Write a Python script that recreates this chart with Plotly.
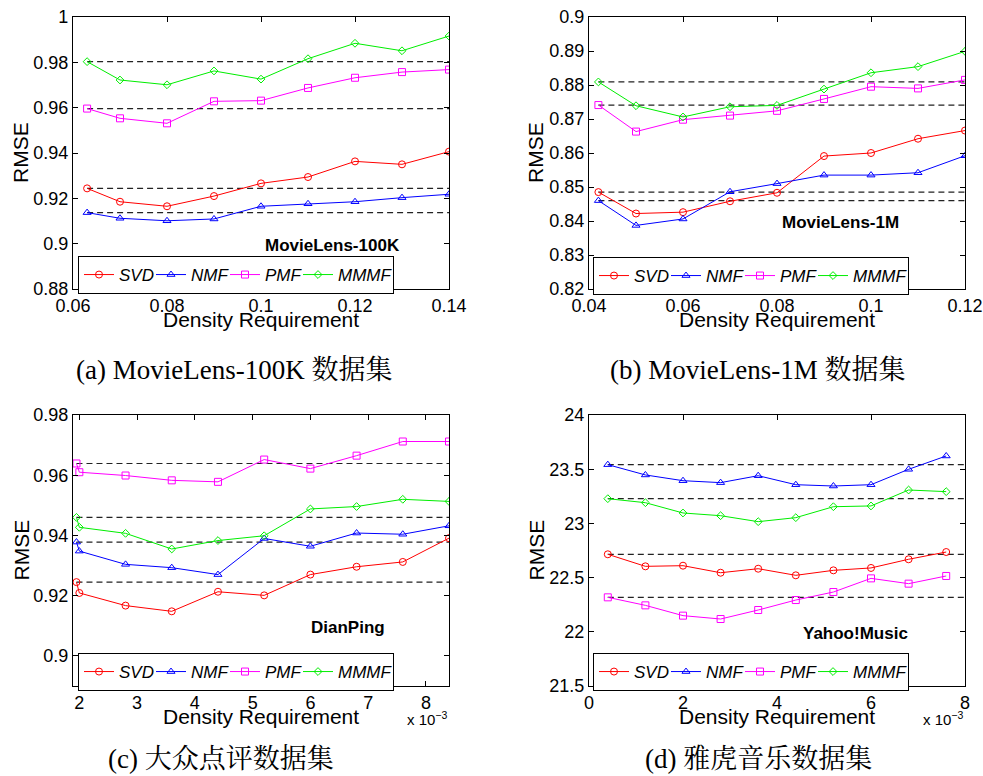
import plotly.graph_objects as go

# ---------------- data ----------------
methods = ["SVD", "NMF", "PMF", "MMMF"]

ml100k_density = [0.063, 0.07, 0.08, 0.09, 0.10, 0.11, 0.12, 0.13, 0.14]
ml100k_svd = [0.9244, 0.9185, 0.9165, 0.9210, 0.9266, 0.9294, 0.9363, 0.9350, 0.9406]
ml100k_nmf = [0.9137, 0.9112, 0.9101, 0.9109, 0.9165, 0.9176, 0.9185, 0.9203, 0.9218]
ml100k_pmf = [0.9596, 0.9553, 0.9531, 0.9628, 0.9631, 0.9687, 0.9732, 0.9757, 0.9768]
ml100k_mmmf = [0.9803, 0.9722, 0.9701, 0.9762, 0.9726, 0.9816, 0.9884, 0.9851, 0.9916]

ml1m_density = [0.042, 0.05, 0.06, 0.07, 0.08, 0.09, 0.10, 0.11, 0.12]
ml1m_svd = [0.8485, 0.8422, 0.8426, 0.8458, 0.8483, 0.8591, 0.8600, 0.8642, 0.8666]
ml1m_nmf = [0.8460, 0.8387, 0.8406, 0.8486, 0.8510, 0.8535, 0.8535, 0.8542, 0.8592]
ml1m_pmf = [0.8741, 0.8663, 0.8698, 0.8710, 0.8724, 0.8759, 0.8795, 0.8790, 0.8815]
ml1m_mmmf = [0.8809, 0.8739, 0.8706, 0.8736, 0.8740, 0.8788, 0.8836, 0.8854, 0.8899]

# density in units of 10^-3
dianping_density = [1.95, 2.0, 2.8, 3.6, 4.4, 5.2, 6.0, 6.8, 7.6, 8.4]
dianping_svd = [0.9245, 0.9209, 0.9167, 0.9148, 0.9213, 0.9201, 0.9270, 0.9296, 0.9312, 0.9391]
dianping_nmf = [0.9378, 0.9348, 0.9304, 0.9293, 0.9270, 0.9390, 0.9364, 0.9408, 0.9404, 0.9432]
dianping_pmf = [0.9639, 0.9610, 0.9599, 0.9583, 0.9578, 0.9652, 0.9622, 0.9665, 0.9712, 0.9712]
dianping_mmmf = [0.9460, 0.9427, 0.9407, 0.9355, 0.9383, 0.9399, 0.9488, 0.9496, 0.9520, 0.9513]

# density in units of 10^-3
yahoo_density = [0.4, 1.2, 2.0, 2.8, 3.6, 4.4, 5.2, 6.0, 6.8, 7.6]
yahoo_svd = [22.715, 22.604, 22.610, 22.545, 22.582, 22.521, 22.567, 22.589, 22.669, 22.736]
yahoo_nmf = [23.542, 23.447, 23.394, 23.376, 23.440, 23.357, 23.345, 23.357, 23.499, 23.622]
yahoo_pmf = [22.318, 22.244, 22.149, 22.118, 22.201, 22.293, 22.367, 22.493, 22.444, 22.515]
yahoo_mmmf = [23.228, 23.191, 23.096, 23.071, 23.016, 23.053, 23.154, 23.161, 23.308, 23.293]

ml100k_xticks = [0.06, 0.08, 0.10, 0.12, 0.14]
ml100k_xticklabels = ["0.06", "0.08", "0.1", "0.12", "0.14"]
ml100k_yticks = [0.88, 0.90, 0.92, 0.94, 0.96, 0.98, 1.00]
ml100k_yticklabels = ["0.88", "0.9", "0.92", "0.94", "0.96", "0.98", "1"]

ml1m_xticks = [0.04, 0.06, 0.08, 0.10, 0.12]
ml1m_xticklabels = ["0.04", "0.06", "0.08", "0.1", "0.12"]
ml1m_yticks = [0.82, 0.83, 0.84, 0.85, 0.86, 0.87, 0.88, 0.89, 0.90]
ml1m_yticklabels = ["0.82", "0.83", "0.84", "0.85", "0.86", "0.87", "0.88", "0.89", "0.9"]

dianping_xticks = [2, 3, 4, 5, 6, 7, 8]
dianping_xticklabels = ["2", "3", "4", "5", "6", "7", "8"]
dianping_yticks = [0.90, 0.92, 0.94, 0.96, 0.98]
dianping_yticklabels = ["0.9", "0.92", "0.94", "0.96", "0.98"]

yahoo_xticks = [0, 2, 4, 6, 8]
yahoo_xticklabels = ["0", "2", "4", "6", "8"]
yahoo_yticks = [21.5, 22.0, 22.5, 23.0, 23.5, 24.0]
yahoo_yticklabels = ["21.5", "22", "22.5", "23", "23.5", "24"]

dataset_names = ["MovieLens-100K", "MovieLens-1M", "DianPing", "Yahoo!Music"]
captions = ["(a) MovieLens-100K 数据集", "(b) MovieLens-1M 数据集",
            "(c) 大众点评数据集", "(d) 雅虎音乐数据集"]

# ---------------- styling ----------------
W, H = 983, 776
colors = {"SVD": "#ff0000", "NMF": "#0000ff", "PMF": "#ff00ff", "MMMF": "#00ee00"}
symbols = {"SVD": "circle-open", "NMF": "triangle-up-open",
           "PMF": "square-open", "MMMF": "diamond-open"}
msizes = {"SVD": 7, "NMF": 7, "PMF": 7, "MMMF": 6}
legend_entry_w = {"SVD": 27, "NMF": 29, "PMF": 28, "MMMF": 50}
SANS = "Liberation Sans, Arial, Helvetica, sans-serif"
SERIF = "Liberation Serif, Times New Roman, Noto Serif CJK SC, Noto Sans CJK SC, serif"


def px_x(p):
    return p / W


def px_y(p):
    return 1 - p / H


panels = [
    dict(x=ml100k_density, ys=[ml100k_svd, ml100k_nmf, ml100k_pmf, ml100k_mmmf],
         xr=[0.06, 0.14], yr=[0.88, 1.0],
         xt=ml100k_xticks, xtl=ml100k_xticklabels, yt=ml100k_yticks, ytl=ml100k_yticklabels,
         box=(73, 17, 449, 289), name_pos=(332, 245), legend_pos=(78, 275),
         ytitle_x=21, caption_pos=(234, 370), exp=False),
    dict(x=ml1m_density, ys=[ml1m_svd, ml1m_nmf, ml1m_pmf, ml1m_mmmf],
         xr=[0.04, 0.12], yr=[0.82, 0.90],
         xt=ml1m_xticks, xtl=ml1m_xticklabels, yt=ml1m_yticks, ytl=ml1m_yticklabels,
         box=(589, 17, 965, 289), name_pos=(840, 222), legend_pos=(593, 276),
         ytitle_x=536, caption_pos=(757, 370), exp=False),
    dict(x=dianping_density, ys=[dianping_svd, dianping_nmf, dianping_pmf, dianping_mmmf],
         xr=[1.89, 8.4], yr=[0.89, 0.98],
         xt=dianping_xticks, xtl=dianping_xticklabels, yt=dianping_yticks, ytl=dianping_yticklabels,
         box=(73, 415, 449, 686), name_pos=(348, 627), legend_pos=(78, 672),
         ytitle_x=21, caption_pos=(221, 759), exp=True),
    dict(x=yahoo_density, ys=[yahoo_svd, yahoo_nmf, yahoo_pmf, yahoo_mmmf],
         xr=[0, 8], yr=[21.5, 24.0],
         xt=yahoo_xticks, xtl=yahoo_xticklabels, yt=yahoo_yticks, ytl=yahoo_yticklabels,
         box=(589, 415, 965, 686), name_pos=(855, 633), legend_pos=(593, 672),
         ytitle_x=536, caption_pos=(758, 759), exp=True),
]

fig = go.Figure()
annotations = []
layout_extra = {}

for i, p in enumerate(panels):
    k = "" if i == 0 else str(i + 1)
    xa, ya = "x" + k, "y" + k
    leg = "legend" + k
    x0, y0, x1, y1 = p["box"]

    # dashed baselines at the first value of each method
    for ys in p["ys"]:
        fig.add_trace(go.Scatter(
            x=[p["x"][0], p["xr"][1]], y=[ys[0], ys[0]], mode="lines",
            line=dict(color="#222222", width=1.2, dash="6px,4px"),
            showlegend=False, hoverinfo="skip", xaxis=xa, yaxis=ya))

    for m, ys in zip(methods, p["ys"]):
        fig.add_trace(go.Scatter(
            x=p["x"], y=ys, mode="lines+markers", name=m,
            line=dict(color=colors[m], width=1),
            marker=dict(symbol=symbols[m], size=msizes[m], color=colors[m],
                        line=dict(width=1, color=colors[m])),
            legend=leg, legendwidth=legend_entry_w[m], xaxis=xa, yaxis=ya))

    axis_common = dict(showline=True, linecolor="black", linewidth=1.2, mirror="ticks",
                       ticks="inside", ticklen=5, tickcolor="black", tickwidth=1,
                       showgrid=False, zeroline=False, automargin=False,
                       tickfont=dict(family=SANS, size=18, color="black"))
    layout_extra["xaxis" + k] = dict(
        axis_common, domain=[px_x(x0), px_x(x1)], range=p["xr"], anchor=ya,
        tickmode="array", tickvals=p["xt"], ticktext=p["xtl"])
    layout_extra["yaxis" + k] = dict(
        axis_common, domain=[px_y(y1), px_y(y0)], range=p["yr"], anchor=xa,
        tickmode="array", tickvals=p["yt"], ticktext=p["ytl"])

    layout_extra[leg] = dict(
        orientation="h", x=px_x(p["legend_pos"][0]), y=px_y(p["legend_pos"][1]),
        xanchor="left", yanchor="middle", bgcolor="white", bordercolor="black",
        borderwidth=1, font=dict(family=SANS, size=17, color="black", style="italic"),
        itemwidth=30, tracegroupgap=0)

    cx = (x0 + x1) / 2
    # axis titles
    annotations.append(dict(text="Density Requirement", x=px_x(cx), y=px_y(y1 + 30),
                            xref="paper", yref="paper", showarrow=False,
                            xanchor="center", yanchor="middle",
                            font=dict(family=SANS, size=21, color="black")))
    annotations.append(dict(text="RMSE", x=px_x(p["ytitle_x"]), y=px_y((y0 + y1) / 2),
                            xref="paper", yref="paper", showarrow=False, textangle=-90,
                            xanchor="center", yanchor="middle",
                            font=dict(family=SANS, size=21, color="black")))
    # dataset name
    annotations.append(dict(text="<b>%s</b>" % dataset_names[i],
                            x=px_x(p["name_pos"][0]), y=px_y(p["name_pos"][1]),
                            xref="paper", yref="paper", showarrow=False,
                            xanchor="center", yanchor="middle",
                            font=dict(family=SANS, size=17, color="black")))
    # caption
    annotations.append(dict(text=captions[i],
                            x=px_x(p["caption_pos"][0]), y=px_y(p["caption_pos"][1]),
                            xref="paper", yref="paper", showarrow=False,
                            xanchor="center", yanchor="middle",
                            font=dict(family=SERIF, size=27, color="black")))
    if p["exp"]:
        annotations.append(dict(text="x 10<sup>−3</sup>", x=px_x(x1), y=px_y(y1 + 32),
                                xref="paper", yref="paper", showarrow=False,
                                xanchor="right", yanchor="middle",
                                font=dict(family=SANS, size=15, color="black")))

fig.update_layout(
    width=W, height=H, autosize=False,
    margin=dict(l=0, r=0, t=0, b=0, pad=0, autoexpand=False),
    paper_bgcolor="white", plot_bgcolor="white",
    annotations=annotations, **layout_extra)

fig.write_html("out.html", config={"displayModeBar": False},
               post_script="document.body.style.margin='0';document.body.style.overflow='hidden';")
